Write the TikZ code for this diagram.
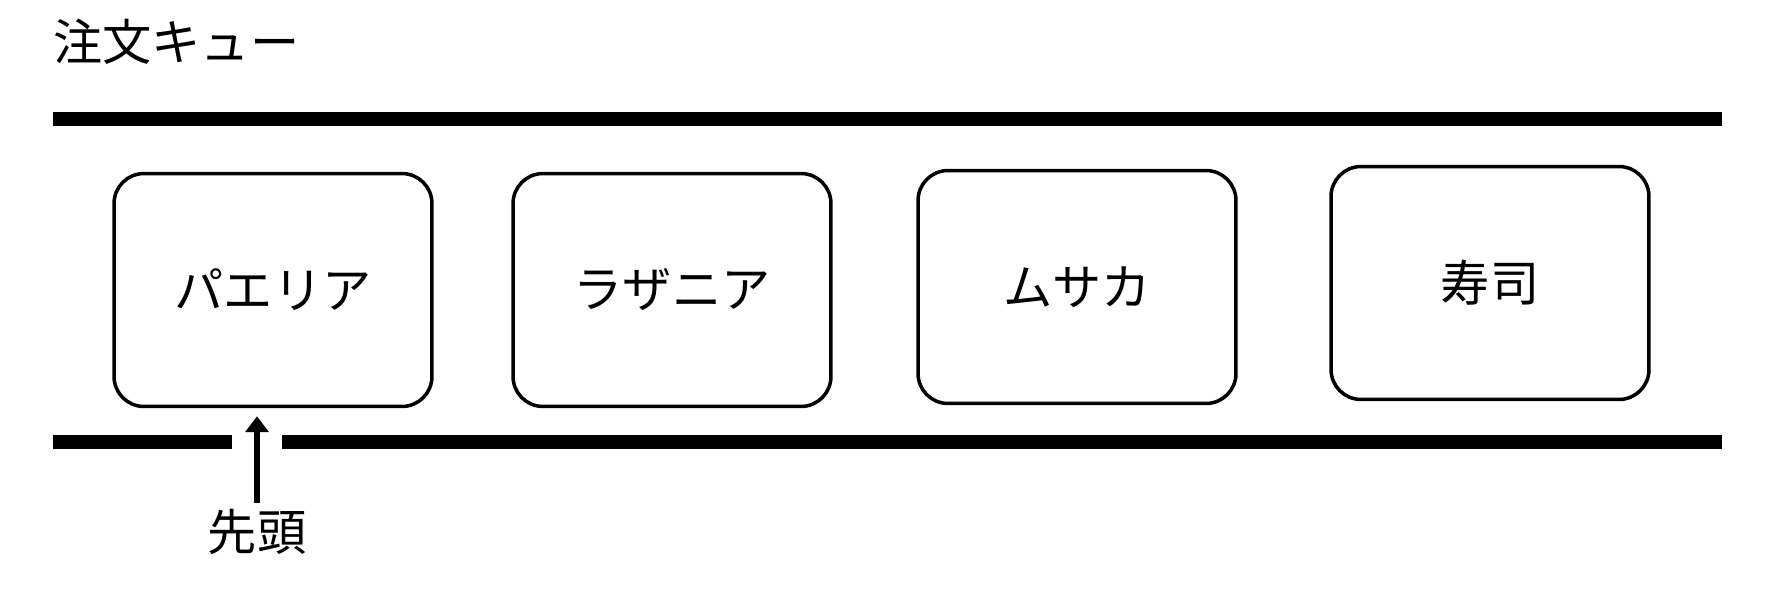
\documentclass[tikz,border=0pt]{standalone}
\usepackage{fontspec}
\setmainfont{Noto Sans CJK JP}
\usetikzlibrary{positioning, arrows.meta}

\begin{document}
\begin{tikzpicture}[x=0.02cm, y=-0.02cm,
    plato/.style={draw, line width=2pt, rounded corners=0.6cm, minimum width=6.36cm, minimum height=4.66cm, font=\fontsize{28}{34}\selectfont},
    pared/.style={line width=8.5pt},
    rotulo/.style={inner sep=0pt, font=\fontsize{28}{34}\selectfont},
    flecha/.style={-{Triangle[width=0.46cm,length=0.32cm]}, line width=3.5pt}]
        \useasboundingbox (0,0) rectangle (1771,592);
        % Título de la cola
        \node[rotulo, anchor=west] (titulo) at (53,42) {注文キュー};
        % Paredes de la cola
        \draw[pared] (53,119) -- (1722,119);
        \draw[pared] (53,442) -- (232,442);
        \draw[pared] (282,442) -- (1722,442);
        % Pedidos en la cola
        \foreach \x/\y/\nombre/\texto in {273/290/p1/パエリア, 672/290/p2/ラザニア, 1077/287/p3/ムサカ, 1490/283/p4/寿司} {
            \node[plato] (\nombre) at (\x,\y) {\texto};
        }
        % Indicador del primer elemento
        \node[rotulo, anchor=north] (cabeza) at (257,509) {先頭};
        \draw[flecha, shorten <=0.12cm] (cabeza.north) -- ([yshift=-0.16cm]cabeza.north |- p1.south);
\end{tikzpicture}
\end{document}
